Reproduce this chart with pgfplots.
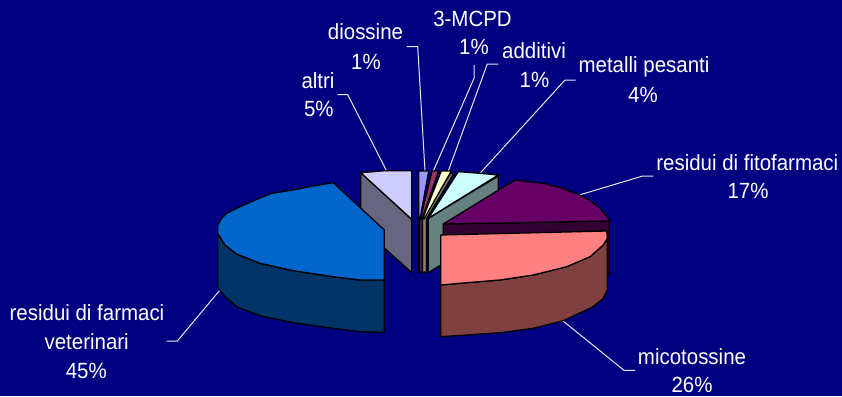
\documentclass[border=0pt]{standalone}
\usepackage{pgfplots}
\usepackage{fontspec}
\setmainfont{Liberation Sans}
\pgfplotsset{compat=1.18}
\definecolor{pagebg}{HTML}{000080}
\definecolor{farmTop}{HTML}{0066CC}\definecolor{farmSide}{HTML}{003366}
\definecolor{altTop}{HTML}{CCCCFF}\definecolor{altSide}{HTML}{666680}
\definecolor{dioTop}{HTML}{9999FF}\definecolor{dioSide}{HTML}{4D4D80}
\definecolor{mcpTop}{HTML}{993366}\definecolor{mcpSide}{HTML}{4D1A33}
\definecolor{addTop}{HTML}{FFFFCC}\definecolor{addSide}{HTML}{808066}
\definecolor{metTop}{HTML}{CCFFFF}\definecolor{metSide}{HTML}{668080}
\definecolor{fitTop}{HTML}{660066}\definecolor{fitSide}{HTML}{330033}
\definecolor{micTop}{HTML}{FF8080}\definecolor{micSide}{HTML}{804040}
\definecolor{leader}{HTML}{E8E8F4}
\newcommand\sq[1]{\scalebox{0.93}[1]{#1}}
\tikzset{
  wedge/.style={draw=black, line width=1.3pt, line join=round, fill=#1},
  lead/.style={draw=leader, line width=1pt},
  lab/.style={text=white, font=\fontsize{22}{26}\selectfont, inner sep=0pt, anchor=center},
}
\begin{document}
\begin{tikzpicture}
\begin{axis}[
  scale only axis, width=842pt, height=396pt,
  xmin=0, xmax=842, ymin=0, ymax=396, y dir=reverse,
  ticks=none, axis line style={draw=none},
  axis background/.style={fill=pagebg},
  no markers, clip=true,
]
% leader lines
\addplot[lead] coordinates {(337.3,94.7)(347.7,94.7)(386.7,171)};
\addplot[lead] coordinates {(406.7,46.7)(417.7,46.7)(425,171)};
\addplot[lead] coordinates {(474,65)(474,78.3)(433.3,171)};
\addplot[lead] coordinates {(498.3,64)(487.3,64)(448.3,171)};
\addplot[lead] coordinates {(575.7,80)(565,80)(480,173.3)};
\addplot[lead] coordinates {(653.3,176)(642.7,176)(579.3,195)};
\addplot[lead] coordinates {(562.7,320.7)(624,370.3)(635,370.3)};
\addplot[lead] coordinates {(220,290)(177.3,341)(166.7,341)};
% altri
\addplot[wedge=altSide] coordinates {(411.7,219.3)(411.7,272.7)(360.7,226.7)(360.7,172.7)} -- cycle;
\addplot[wedge=altTop] coordinates {(360.7,172.7)(385,170.7)(411.7,170.7)(411.7,219.3)} -- cycle;
% residui di farmaci veterinari
\addplot[wedge=farmSide] coordinates {(217.7,233.3)(225,245)(236.7,254)(260,263.3)(293.3,270.7)(333.3,276.7)(360,280)(384.3,280)(384.3,332.3)(360,331.7)(333.3,328.3)(293.3,322.7)(260,315.7)(236.7,306.7)(225,296.7)(217.7,287.3)} -- cycle;
\addplot[wedge=farmTop] coordinates {(333.3,182.7)(313,186)(293,190)(271.7,193.3)(256.7,199.3)(241.7,206)(226.7,213.3)(221.7,218.3)(217.7,225)(217.7,233.3)(225,245)(236.7,254)(260,263.3)(293.3,270.7)(333.3,276.7)(360,280)(384.3,280)(384.3,230)} -- cycle;
% the four small slices
\addplot[wedge=dioSide] coordinates {(418.5,219)(422,219)(422,272)(418.5,272)} -- cycle;
\addplot[wedge=dioTop] coordinates {(418.7,171)(428.7,171)(420,219)(418.7,219)} -- cycle;
\addplot[wedge=mcpSide] coordinates {(419.5,219)(422.5,219)(422.5,272)(419.5,272)} -- cycle;
\addplot[wedge=mcpTop] coordinates {(432,171)(438.7,171)(422,219)(420.5,219)} -- cycle;
\addplot[wedge=addSide] coordinates {(451.3,172)(453,175)(426.5,219)(426.5,272)(422.5,272)(422.5,219)} -- cycle;
\addplot[wedge=addTop] coordinates {(441.3,171)(451.3,171)(424,219)(422.5,219)} -- cycle;
% metalli pesanti
\addplot[wedge=metSide] coordinates {(428.3,218.3)(498.3,176)(498.3,230)(428.3,272.7)} -- cycle;
\addplot[wedge=metTop] coordinates {(458.3,171.7)(480,173.3)(498.3,175)(428.3,218.3)} -- cycle;
% residui di fitofarmaci
\addplot[wedge=fitSide] coordinates {(443.3,224)(609.3,220.7)(609.3,275)(443.3,275)} -- cycle;
\addplot[wedge=fitTop] coordinates {(443.3,224)(515,180)(530,182)(543.3,183.3)(562,188)(580,195)(591,201)(600,208.3)(605,214)(609.3,220)(609.3,221)} -- cycle;
% micotossine
\addplot[wedge=micSide] coordinates {(607.3,238.3)(603.3,245)(590,256.7)(566.7,266.7)(533.3,275)(500,280)(466.7,282.7)(440.7,285)(440.7,336.7)(466.7,335)(500,332.7)(533.3,328.3)(563.3,320.7)(593.3,306.7)(603.3,298.3)(607.3,290)} -- cycle;
\addplot[wedge=micTop] coordinates {(440.7,235)(606.7,231)(607.3,238.3)(603.3,245)(590,256.7)(566.7,266.7)(533.3,275)(500,280)(466.7,282.7)(440.7,285)} -- cycle;
% labels
\node[lab] at (axis cs:365.5,32) {\sq{diossine}};
\node[lab] at (axis cs:366,61.7) {\sq{1\%}};
\node[lab] at (axis cs:472.5,19) {\sq{3-MCPD}};
\node[lab] at (axis cs:474,47) {\sq{1\%}};
\node[lab] at (axis cs:534,51) {\sq{additivi}};
\node[lab] at (axis cs:534.5,80) {\sq{1\%}};
\node[lab] at (axis cs:644,66.6) {\sq{metalli pesanti}};
\node[lab] at (axis cs:643,95) {\sq{4\%}};
\node[lab] at (axis cs:747.3,163) {\sq{residui di fitofarmaci}};
\node[lab] at (axis cs:748,191.3) {\sq{17\%}};
\node[lab] at (axis cs:692,356.7) {\sq{micotossine}};
\node[lab] at (axis cs:692,384.7) {\sq{26\%}};
\node[lab] at (axis cs:87,313) {\sq{residui di farmaci}};
\node[lab] at (axis cs:86.7,342) {\sq{veterinari}};
\node[lab] at (axis cs:86.3,370.7) {\sq{45\%}};
\node[lab] at (axis cs:318,81) {\sq{altri}};
\node[lab] at (axis cs:318.8,109) {\sq{5\%}};
\end{axis}
\end{tikzpicture}
\end{document}
